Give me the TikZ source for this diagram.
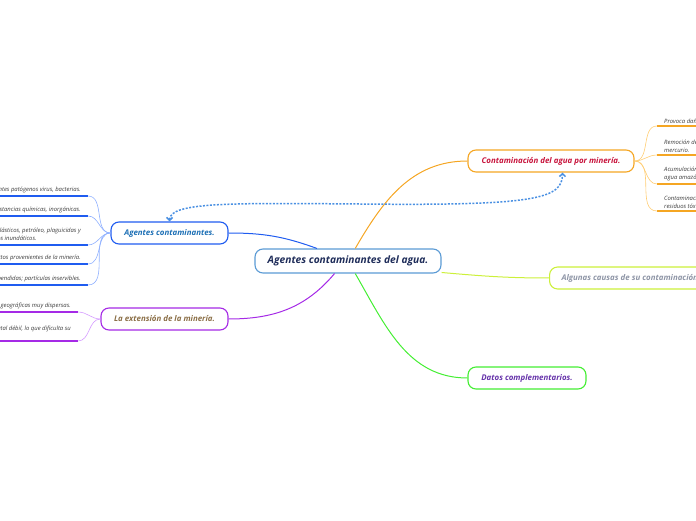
\documentclass[tikz,border=0pt]{standalone}
\usepackage{fontspec}
\setmainfont{Open Sans}
\usetikzlibrary{arrows.meta}

\definecolor{navytext}{HTML}{1F2D5A}
\definecolor{mainline}{HTML}{5B9BD5}
\definecolor{blueline}{HTML}{1F5CF0}
\definecolor{bluetext}{HTML}{1C6FB5}
\definecolor{bluelight}{HTML}{8FB0FF}
\definecolor{purpleline}{HTML}{A52AE6}
\definecolor{purplelight}{HTML}{D49BFF}
\definecolor{tantext}{HTML}{8B6F47}
\definecolor{orangeline}{HTML}{F5A623}
\definecolor{orangelight}{HTML}{FFCD73}
\definecolor{crimsontext}{HTML}{C8143C}
\definecolor{limeline}{HTML}{CCF03A}
\definecolor{graytext}{HTML}{8E95A6}
\definecolor{greenline}{HTML}{44EE33}
\definecolor{violettext}{HTML}{6633AA}
\definecolor{leafgray}{HTML}{3A3A3A}
\definecolor{dotblue}{HTML}{4A90E2}

\begin{document}
\begin{tikzpicture}[x=1pt,y=1pt,
  topic/.style={draw,rounded corners=8pt,line width=1.1pt,fill=white,
    font=\fontsize{7.9}{9}\selectfont\bfseries\itshape,minimum height=22pt,inner xsep=6pt},
  leaf/.style={font=\fontsize{5.9}{8}\selectfont\itshape,text=leafgray,
    inner ysep=2.5pt,inner xsep=7pt,align=left},
  dotlink/.style={dotblue,line width=1.5pt,dash pattern=on 2pt off 1.5pt,
    {Straight Barb[length=3pt,width=6pt]}-{Straight Barb[length=3pt,width=6pt]}}]
\useasboundingbox (0,0) rectangle (696,520);
\clip (0,0) rectangle (696,520);

% main idea
\node[topic,draw=mainline,text=navytext,minimum width=186pt,minimum height=24pt,
  font=\fontsize{10.2}{12}\selectfont\bfseries\itshape] (agua) at (348,259) {Agentes contaminantes del agua.};

% topics
\node[topic,draw=blueline,text=bluetext,minimum width=117pt] (agentes) at (169.5,287) {Agentes contaminantes.};
\node[topic,draw=purpleline,text=tantext,minimum width=127pt] (extension) at (164.5,201) {La extensión de la minería.};
\node[topic,draw=orangeline,text=crimsontext,minimum width=166pt] (mineria) at (551,359) {Contaminación del agua por minería.};
\node[topic,draw=limeline,text=graytext,anchor=west,inner xsep=12pt] (causas) at (549,242) {Algunas causas de su contaminación.};
\node[topic,draw=greenline,text=violettext,minimum width=118pt] (datos) at (527,142) {Datos complementarios.};

\draw[blueline,line width=1pt] (agua.158) to[out=160,in=0] (agentes.east);
\draw[purpleline,line width=1pt] (agua.223) to[out=230,in=0] (extension.east);
\draw[orangeline,line width=1pt] (agua.60) to[out=60,in=180] (mineria.west);
\draw[limeline,line width=1pt] (agua.-7) to[out=-5,in=180] (causas.west);
\draw[greenline,line width=1pt] (agua.-60) to[out=-60,in=180] (datos.west);

% agentes
\node[leaf,anchor=south east] (a1) at (88,324) {Agentes patógenos virus, bacterias.};
\node[leaf,anchor=south east] (a2) at (88,304) {Sustancias químicas, inorgánicas.};
\node[leaf,anchor=south east] (a3) at (88,275) {Residuos plásticos, petróleo, plaguicidas y\\compuestos inundáticos.};
\node[leaf,anchor=south east] (a4) at (88,256) {Productos provenientes de la minería.};
\node[leaf,anchor=south east] (a5) at (88,235) {Partículas suspendidas; partículas inservibles.};
\foreach \n in {a1,a2,a3,a4,a5} {
  \draw[blueline,line width=1.6pt] (\n.south west) -- (\n.south east);
  \draw[bluelight,line width=0.6pt] (agentes.west) to[out=180,in=0] (\n.south east);
}

% extension
\node[leaf,anchor=south east] (e1) at (78,208) {Zonas geográficas muy dispersas.};
\node[leaf,anchor=south east] (e2) at (78,179) {Control estatal débil, lo que dificulta su\\control.};
\foreach \n in {e1,e2} {
  \draw[purpleline,line width=1.6pt] (\n.south west) -- (\n.south east);
  \draw[purplelight,line width=0.6pt] (extension.west) to[out=180,in=0] (\n.south east);
}

% mineria
\node[leaf,anchor=south west] (c1) at (657,394) {Provoca daños en la salud.};
\node[leaf,anchor=south west] (c2) at (657,365) {Remoción de suelos y uso de\\mercurio.};
\node[leaf,anchor=south west] (c3) at (657,336) {Acumulación de mercurio en el\\agua amazónica.};
\node[leaf,anchor=south west] (c4) at (657,309) {Contaminación del agua con\\residuos tóxicos.};
\foreach \n in {c1,c2,c3,c4} {
  \draw[orangeline,line width=1.6pt] (\n.south west) -- (\n.south east);
  \draw[orangelight,line width=0.6pt] (mineria.east) to[out=0,in=180] (\n.south west);
}

% relation
\draw[dotlink] (agentes.north) .. controls (170,318) and (230,317) .. (360,316)
  .. controls (540,314) and (562,322) .. (mineria.-45);
\end{tikzpicture}
\end{document}
